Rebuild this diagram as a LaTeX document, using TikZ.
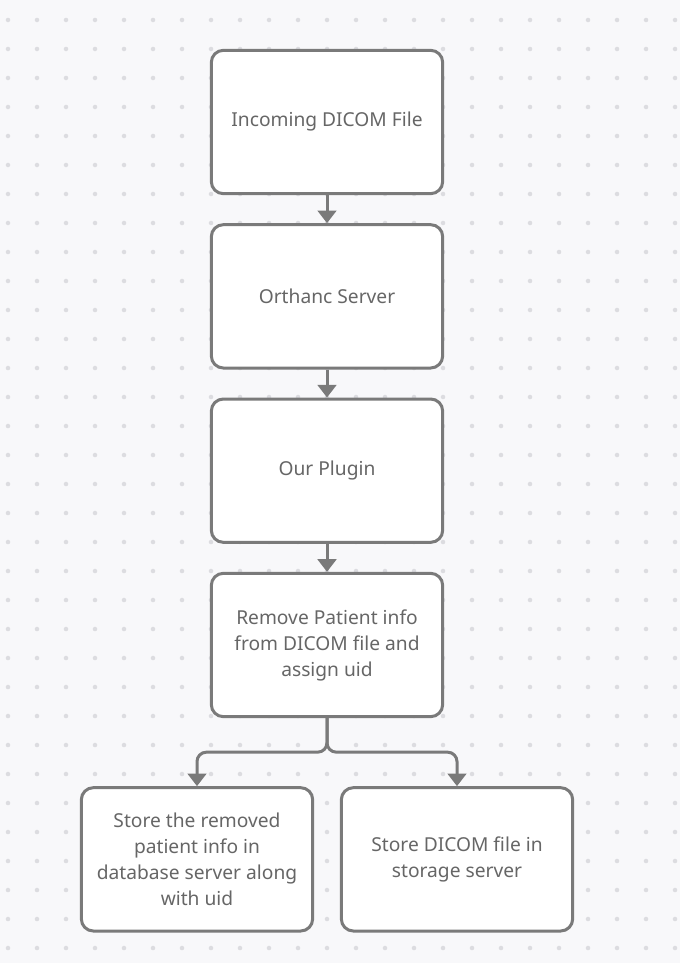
\documentclass[tikz,border=0pt]{standalone}
\usepackage{fontspec}
\setmainfont{Noto Sans}
\usetikzlibrary{arrows.meta,positioning}
\definecolor{bgcol}{HTML}{F8F8FA}
\definecolor{dotcol}{HTML}{DCDCE0}
\definecolor{edgecol}{HTML}{7A7A7A}
\definecolor{txtcol}{HTML}{666666}

\begin{document}
\begin{tikzpicture}[
  x=0.75pt, y=-0.75pt,
  node distance=21pt,
  box/.style={rectangle, draw=edgecol, fill=white, line width=2.25pt, rounded corners=9pt, minimum width=173.5pt, minimum height=107.5pt, align=center, text=txtcol, font=\fontsize{14.4pt}{19.5pt}\selectfont},
  arrow/.style={-{Triangle[length=9.5pt, width=14pt]}, draw=edgecol, line width=2.25pt}
]
% background with dot grid
\fill[bgcol] (0,0) rectangle (680,963);
\useasboundingbox (0,0) rectangle (680,963);
\foreach \i in {0,...,23}
  \foreach \j in {0,...,32}
    \fill[dotcol] (8+29*\i,20+29*\j) circle (1.7pt);

\node[box] (A) at (327,122) {Incoming DICOM File};
\node[box, below=of A] (B) {Orthanc Server};
\node[box, below=of B] (C) {Our Plugin};
\node[box, below=of C] (D) {Remove Patient info\\from DICOM file and\\assign uid};
\node[box, below=51pt of D, xshift=-97.5pt] (E) {Store the removed\\patient info in\\database server along\\with uid};
\node[box, below=51pt of D, xshift=97.5pt] (F) {Store DICOM file in\\storage server};
\draw[arrow] (A) -- (B);
\draw[arrow] (B) -- (C);
\draw[arrow] (C) -- (D);
\draw[arrow, rounded corners=7pt] (D.south) -- ++(0,34) -| (E.north);
\draw[arrow, rounded corners=7pt] (D.south) -- ++(0,34) -| (F.north);
\end{tikzpicture}
\end{document}
